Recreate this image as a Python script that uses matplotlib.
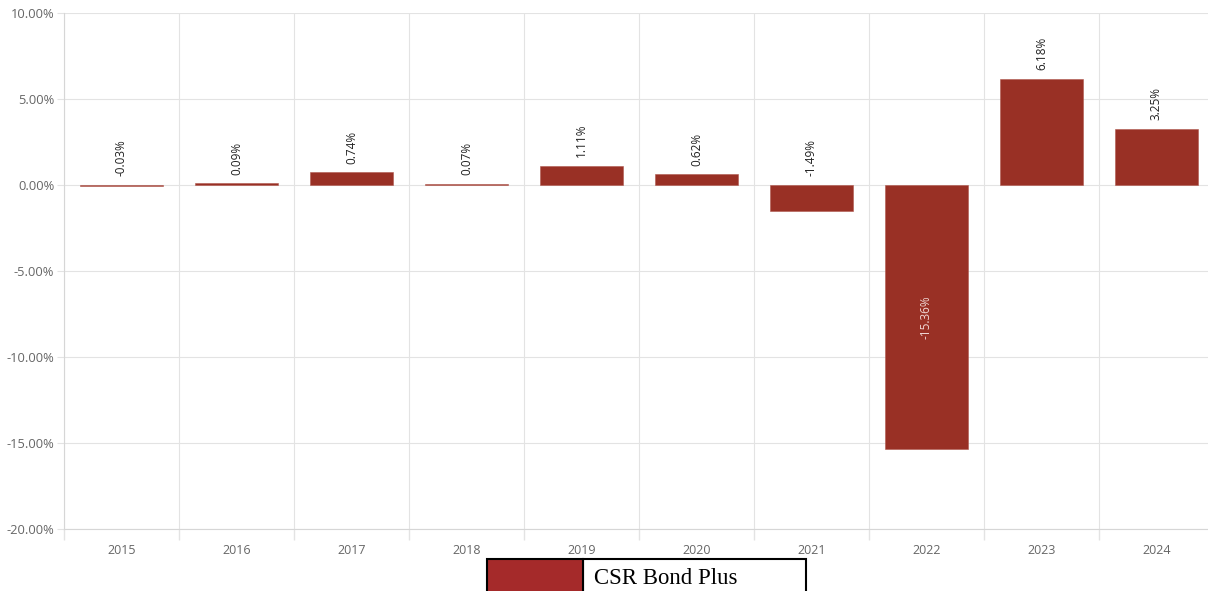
import matplotlib.pyplot as plt
from matplotlib.patches import Rectangle
from matplotlib.ticker import FuncFormatter, MultipleLocator

years = ["2015", "2016", "2017", "2018", "2019", "2020", "2021", "2022", "2023", "2024"]
returns = [-0.03, 0.09, 0.74, 0.07, 1.11, 0.62, -1.49, -15.36, 6.18, 3.25]
series_name = "CSR Bond Plus"

bar_color = "#993025"
grid_color = "#e3e3e3"
tick_color = "#666666"

plt.rcParams["font.family"] = ["Open Sans", "DejaVu Sans"]

W, H = 1208, 591
fig = plt.figure(figsize=(W / 100, H / 100), dpi=100)
ax = fig.add_axes([64 / W, 1 - 529 / H, 1150 / W, 516 / H])

x = list(range(len(years)))
ax.bar(x, returns, width=0.72, color=bar_color, edgecolor="#b0584e",
       linewidth=0.4, zorder=3)

ax.set_xlim(-0.5, len(years) - 0.5)
ax.set_ylim(-20, 10)
ax.yaxis.set_major_locator(MultipleLocator(5))
ax.yaxis.set_major_formatter(FuncFormatter(lambda v, p: f"{v:.2f}%"))

# category boundaries for vertical grid and ticks
ax.set_xticks([i - 0.5 for i in range(len(years) + 1)])
ax.set_xticklabels([])
ax.set_xticks(x, minor=True)
ax.set_xticklabels(years, minor=True)
ax.tick_params(axis="x", which="major", length=8, color=grid_color, width=1)
ax.tick_params(axis="x", which="minor", length=0, labelsize=9, labelcolor=tick_color, pad=11)
ax.tick_params(axis="y", length=5, color=grid_color, labelsize=9.3, labelcolor=tick_color, pad=2)

ax.grid(True, which="major", color=grid_color, linewidth=0.8, zorder=0)
for side in ["top", "right"]:
    ax.spines[side].set_visible(False)
ax.spines["left"].set_color("#d6d6d6")
ax.spines["bottom"].set_color("#d6d6d6")

for xi, v in zip(x, returns):
    label = f"{v:.2f}%"
    if v < -5:
        ax.text(xi, v / 2, label, rotation=90, ha="center", va="center",
                fontsize=8.5, color="#f0d8d5", zorder=4)
    else:
        top = max(v, 0)
        ax.text(xi, top + 0.5, label, rotation=90, ha="center", va="bottom",
                fontsize=8.5, color="#222222", zorder=4)

# legend box drawn by hand (patch + label in a bordered box)
lx0, lx1, lx2 = 487, 583, 806
ly0, ly1 = 559, 593
fig.patches.append(Rectangle((lx1 / W, 1 - ly1 / H), (lx2 - lx1) / W, (ly1 - ly0) / H,
                             transform=fig.transFigure, facecolor="white",
                             edgecolor="black", linewidth=1.5))
fig.patches.append(Rectangle((lx0 / W, 1 - ly1 / H), (lx1 - lx0) / W, (ly1 - ly0) / H,
                             transform=fig.transFigure, facecolor="#a52a2a",
                             edgecolor="black", linewidth=1.5))
fig.text(594 / W, 1 - 578 / H, series_name, ha="left", va="center",
         family="Liberation Serif", fontsize=16.4, color="black")

fig.savefig("out.png", dpi=100)
